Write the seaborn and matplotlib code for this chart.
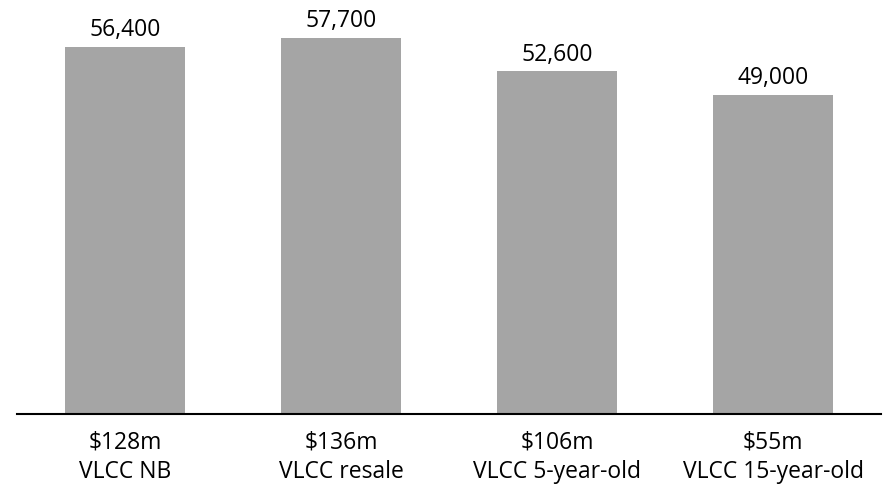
import matplotlib
matplotlib.use("Agg")
import matplotlib.pyplot as plt
import seaborn as sns
import pandas as pd

# Vessel classes, asset prices and values shown above the bars
vessels = ["VLCC NB", "VLCC resale", "VLCC 5-year-old", "VLCC 15-year-old"]
prices = ["$128m", "$136m", "$106m", "$55m"]
values = [56400, 57700, 52600, 49000]

sns.set_theme(style="white")
plt.rcParams["font.family"] = ["Open Sans", "DejaVu Sans"]

df = pd.DataFrame({
    "label": [f"{p}\n{v}" for p, v in zip(prices, vessels)],
    "value": values,
})

fig = plt.figure(figsize=(8.86, 4.86), dpi=100)
ax = fig.add_axes([17 / 886, (486 - 414) / 486, 864 / 886, 414 / 486])

sns.barplot(data=df, x="label", y="value", color="#A5A5A5",
            saturation=1, width=0.555, linewidth=0, edgecolor="none", ax=ax)

for i, v in enumerate(values):
    ax.annotate(f"{v:,}", xy=(i, v), xytext=(0, 3.5), textcoords="offset points",
                ha="center", va="bottom", fontsize=16.5, color="black")

ax.set_xlim(-0.5, 3.5)
ax.set_ylim(0, 63570)
ax.set_xlabel("")
ax.set_ylabel("")
ax.set_yticks([])
for side in ("top", "left", "right"):
    ax.spines[side].set_visible(False)
ax.spines["bottom"].set_color("black")
ax.spines["bottom"].set_linewidth(1.5)
ax.tick_params(axis="x", length=0, pad=12, labelsize=16.5, labelcolor="black")
for t in ax.get_xticklabels():
    t.set_linespacing(1.3)

fig.savefig("out.png", dpi=100)
